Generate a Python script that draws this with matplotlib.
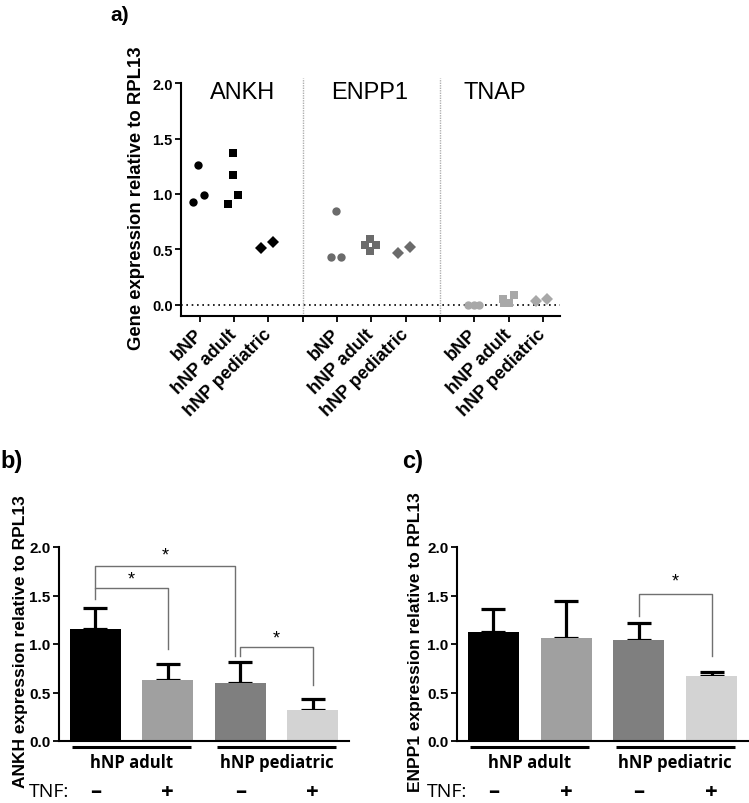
import matplotlib
matplotlib.use("Agg")
import matplotlib.pyplot as plt
from matplotlib import font_manager

# fonts: Arial-like for most things, a narrow one for gene titles if present
names = {f.name for f in font_manager.fontManager.ttflist}
narrow = "Liberation Sans Narrow" if "Liberation Sans Narrow" in names else "Liberation Sans"
plt.rcParams["font.family"] = ["Liberation Sans", "DejaVu Sans"]

# ---------------- data, panel a (scatter) ----------------
groups = ["bNP", "hNP adult", "hNP pediatric"]
genes = ["ANKH", "ENPP1", "TNAP"]

ankh_vals = [[0.93, 1.26, 0.99], [0.91, 1.37, 1.175, 0.99], [0.51, 0.565]]
ankh_dx = [[-0.2, -0.04, 0.12], [-0.18, -0.04, -0.04, 0.11], [-0.22, 0.13]]
enpp1_vals = [[0.43, 0.846, 0.43], [0.536, 0.59, 0.482, 0.536], [0.47, 0.52]]
enpp1_dx = [[-0.19, -0.03, 0.12], [-0.19, -0.03, -0.03, 0.13], [-0.21, 0.14]]
tnap_vals = [[0.0, 0.0, 0.0], [0.054, 0.018, 0.09, 0.018], [0.035, 0.055]]
tnap_dx = [[-0.19, -0.02, 0.13], [-0.17, 0.0, 0.15, -0.12], [-0.2, 0.13]]

# ---------------- data, panels b and c (bars) ----------------
bar_groups = ["hNP adult", "hNP pediatric"]
tnf = ["–", "+", "–", "+"]
ankh_mean = [1.158, 0.625, 0.595, 0.323]
ankh_sd = [0.217, 0.165, 0.223, 0.113]
enpp1_mean = [1.124, 1.065, 1.045, 0.667]
enpp1_sd = [0.233, 0.375, 0.171, 0.048]

bar_colors = ["#000000", "#a0a0a0", "#7f7f7f", "#d3d3d3"]
gene_colors = ["#000000", "#6b6b6b", "#a8a8a8"]
markers = ["o", "s", "D"]
msizes = [6.0, 5.6, 5.8]

W, H = 749, 804
fig = plt.figure(figsize=(W / 100, H / 100), dpi=100)


def px_rect(left, top, right, bottom):
    return [left / W, 1 - bottom / H, (right - left) / W, (bottom - top) / H]


# ================= panel a =================
ax = fig.add_axes(px_rect(181, 78.5, 560, 317))
all_vals = [ankh_vals, enpp1_vals, tnap_vals]
all_dx = [ankh_dx, enpp1_dx, tnap_dx]
for g in range(3):
    for k in range(3):
        x0 = g * 4 + k
        xs = [x0 + d for d in all_dx[g][k]]
        ax.plot(xs, all_vals[g][k], ls="none", marker=markers[k],
                ms=msizes[k], color=gene_colors[g], mew=0, zorder=3)

ax.axhline(0, color="black", ls=(0, (1, 2.2)), lw=1.2, zorder=1)
for xs in [3, 7]:
    ax.axvline(xs, color="#b0b0b0", ls=(0, (1, 0.8)), lw=1.0, zorder=1)

title_x = [1.24, 4.94, 8.6]
for g in range(3):
    ax.text(title_x[g], 1.92, genes[g], ha="center", va="center",
            fontsize=17, family=narrow)

ax.set_xlim(-0.55, 10.5)
ax.set_ylim(-0.1, 2.05)
ax.set_yticks([0, 0.5, 1.0, 1.5, 2.0])
ax.set_yticklabels(["0.0", "0.5", "1.0", "1.5", "2.0"], fontsize=10.5,
                   fontweight="bold", family=narrow)
labels = []
for g in range(3):
    labels += groups + [""]
labels = labels[:11]
ax.set_xticks(range(11))
ax.set_xticklabels(labels, rotation=45, ha="right", va="center",
                   rotation_mode="anchor", fontsize=13, fontweight="bold")
ax.tick_params(axis="both", direction="out", length=4, width=1.3, pad=2)
ax.tick_params(axis="x", pad=7)
for s in ["top", "right"]:
    ax.spines[s].set_visible(False)
for s in ["left", "bottom"]:
    ax.spines[s].set_linewidth(1.5)
ax.spines["left"].set_bounds(-0.1, 2.0)
ax.set_ylabel("Gene expression relative to RPL13", fontsize=13.3, fontweight="bold")
ax.yaxis.set_label_coords(-0.095, 0.5)

fig.text(110 / W, 1 - 6 / H, "a)", fontsize=15, fontweight="bold", va="top")


# ================= panels b, c =================
def bar_panel(rect, means, sds, ylabel, label, lab_x, brackets, ylab_x):
    ax = fig.add_axes(rect)
    xs = range(len(means))
    ax.bar(xs, means, width=0.7, color=bar_colors, zorder=2)
    ax.errorbar(xs, means, yerr=[[0] * len(sds), sds], fmt="none", ecolor="black",
                elinewidth=2.3, capsize=8.5, capthick=2.3, zorder=1)
    for x0, x1, y, l0, l1, sy in brackets:
        ax.plot([x0, x0, x1, x1], [l0, y, y, l1], color="#707070", lw=1.0, zorder=3)
        ax.text((x0 + x1) / 2, sy, "*", ha="center", va="center", fontsize=13)
    ax.set_xlim(-0.5, 3.5)
    ax.set_ylim(0, 2.0)
    ax.set_xticks([])
    ax.set_yticks([0, 0.5, 1.0, 1.5, 2.0])
    ax.set_yticklabels(["0.0", "0.5", "1.0", "1.5", "2.0"], fontsize=11, fontweight="bold")
    ax.tick_params(axis="y", direction="out", length=4, width=1.3, pad=2)
    for s in ["top", "right"]:
        ax.spines[s].set_visible(False)
    for s in ["left", "bottom"]:
        ax.spines[s].set_linewidth(1.5)
    ax.set_ylabel(ylabel, fontsize=12.5, fontweight="bold")
    ax.yaxis.set_label_coords(ylab_x, 0.515)
    # group underlines and names
    for i, name in enumerate(bar_groups):
        c = i * 2 + 0.5
        ax.plot([c - 0.82, c + 0.82], [-0.065, -0.065], color="black", lw=2.2,
                clip_on=False, solid_capstyle="butt")
        ax.text(c, -0.215, name, ha="center", va="center", fontsize=12,
                fontweight="bold", family=["Open Sans", "DejaVu Sans"])
    ax.text(-0.92, -0.52, "TNF:", ha="left", va="center", fontsize=14,
            family=["Open Sans", "DejaVu Sans"])
    for i, t in enumerate(tnf):
        ax.text(i, -0.52, t, ha="center", va="center", fontsize=16, fontweight="bold",
                family=["Open Sans", "DejaVu Sans"])
    fig.text(lab_x / W, 1 - 450 / H, label, fontsize=17, fontweight="bold", va="top")
    return ax


# brackets: x0, x1, bar height, left leg end, right leg end, star y
ankh_brackets = [
    (0, 1.93, 1.80, 1.58, 0.876, 1.92),
    (0, 1, 1.58, 1.46, 0.95, 1.67),
    (2, 3, 0.97, 0.876, 0.58, 1.065),
]
enpp1_brackets = [
    (2, 3, 1.52, 1.29, 0.876, 1.65),
]

bar_panel(px_rect(59, 548, 349, 742), ankh_mean, ankh_sd,
          "ANKH expression relative to RPL13", "b)", 0, ankh_brackets, -0.107)
bar_panel(px_rect(457, 548, 748, 742), enpp1_mean, enpp1_sd,
          "ENPP1 expression relative to RPL13", "c)", 402, enpp1_brackets, -0.117)

fig.savefig("out.png", dpi=100)
